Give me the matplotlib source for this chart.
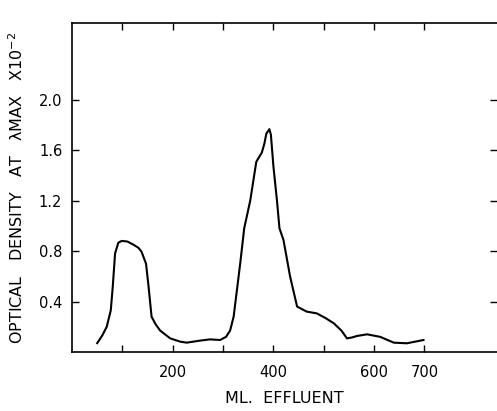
import matplotlib
matplotlib.use("Agg")
import matplotlib.pyplot as plt

# Data
effluent_ml = [50, 60, 69, 77, 81, 85.5, 92, 99, 110, 122, 132, 138, 147, 152, 158, 166, 175,
               195, 215, 228, 254, 274, 294, 306, 314, 321, 334, 342, 354, 366, 377, 382,
               386, 392, 395, 400, 407, 412, 420, 433, 447, 466, 486, 503, 520, 535, 546,
               556, 566, 586, 612, 639, 665, 698]
optical_density = [0.07, 0.13, 0.20, 0.33, 0.52, 0.78, 0.866, 0.88, 0.875, 0.85, 0.825, 0.795,
                   0.70, 0.52, 0.28, 0.22, 0.17, 0.108, 0.082, 0.074, 0.09, 0.10, 0.095, 0.12,
                   0.17, 0.28, 0.70, 0.98, 1.20, 1.507, 1.58, 1.65, 1.73, 1.765, 1.72, 1.47,
                   1.2, 0.98, 0.887, 0.60, 0.36, 0.32, 0.306, 0.27, 0.227, 0.17, 0.108, 0.115,
                   0.127, 0.14, 0.12, 0.074, 0.069, 0.095]

x_ticks = [100, 200, 300, 400, 500, 600, 700]
x_tick_labels = ["", "200", "", "400", "", "600", "700"]
y_ticks = [0.4, 0.8, 1.2, 1.6, 2.0]
y_tick_labels = ["0.4", "0.8", "1.2", "1.6", "2.0"]

plt.rcParams['font.family'] = ['DejaVu Sans']

fig = plt.figure(figsize=(4.97, 4.11), dpi=100)
ax = fig.add_axes([72 / 497, (411 - 352) / 411, 1 - 72 / 497, (352 - 23) / 411])

ax.plot(effluent_ml, optical_density, color="black", linewidth=1.5)

ax.set_xlim(0, 844)
ax.set_ylim(0, 2.606)

ax.set_xticks(x_ticks)
ax.set_xticklabels(x_tick_labels)
ax.set_yticks(y_ticks)
ax.set_yticklabels(y_tick_labels)

ax.tick_params(axis="both", direction="in", length=5, width=1.0, labelsize=10.5,
               top=True, right=True, color="black")
ax.tick_params(axis="x", pad=9)
ax.tick_params(axis="y", pad=7)

for side in ["left", "bottom", "top"]:
    ax.spines[side].set_linewidth(1.2)
ax.spines["right"].set_visible(False)

ax.set_xlabel("ML.  EFFLUENT", fontsize=11.5, labelpad=8)
ax.set_ylabel("OPTICAL   DENSITY   AT   λMAX   X10$^{-2}$", fontsize=11.5, labelpad=9)

fig.savefig("out.png", dpi=100)
